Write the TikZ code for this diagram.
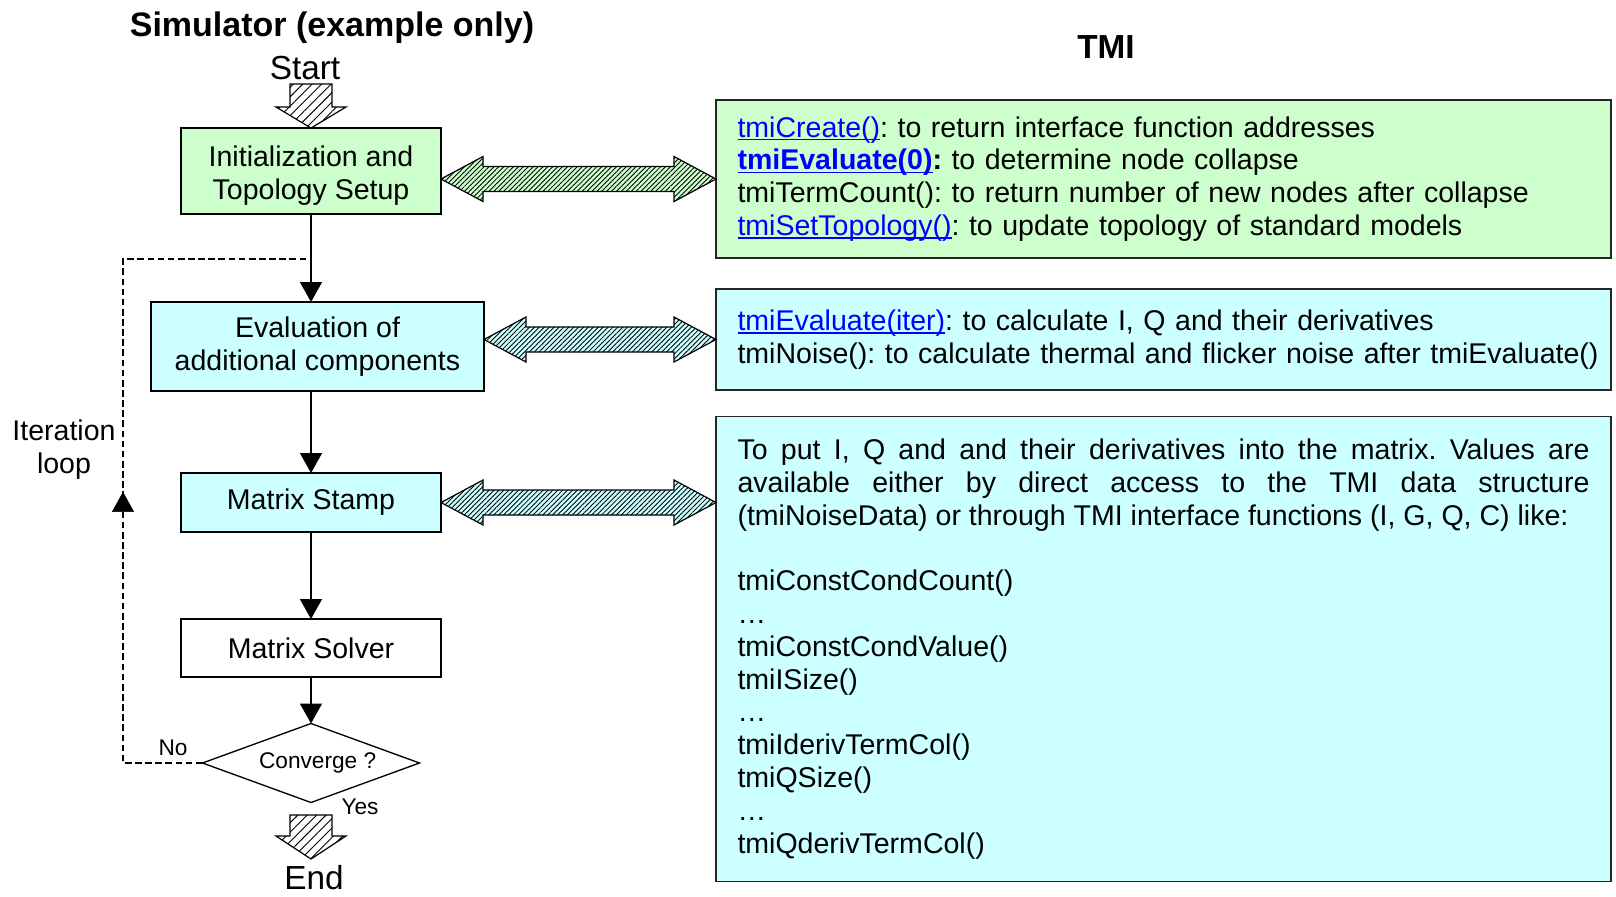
\documentclass[tikz,border=0pt]{standalone}
\usepackage{fontspec}
\setmainfont{Liberation Sans}
\usetikzlibrary{arrows.meta,shapes.geometric,patterns.meta,calc,decorations.markings}
\definecolor{lgreen}{HTML}{CCFFCC}
\definecolor{lcyan}{HTML}{CCFFFF}
\definecolor{lnk}{HTML}{0000FF}
\frenchspacing
\hyphenpenalty=10000
\exhyphenpenalty=10000
\newcommand\lk[1]{\textcolor{lnk}{\setbox0\hbox{#1}\rlap{\rule[-2.4pt]{\wd0}{1pt}}\box0}}
\newcommand\bodyfont{\fontsize{21.4pt}{24.6pt}\selectfont}
\newcommand\tmidbl[3]{%
  \path[dblarr, preaction={fill=#3}] (#1) -- ($(#1)+(42,-22.5)$) -- ($(#1)+(42,-12.5)$)
    -- ($(#2)+(-42,-12.5)$) -- ($(#2)+(-42,-22.5)$) -- (#2) -- ($(#2)+(-42,22.5)$)
    -- ($(#2)+(-42,12.5)$) -- ($(#1)+(42,12.5)$) -- ($(#1)+(42,22.5)$) -- cycle;}
\newcommand\tmidown[3]{%
  \path[blockarr] ($(#1)+(-21,0)$) -- ($(#1)+(21,0)$) -- ($(#2)+(21,-#3)$) -- ($(#2)+(35,-#3)$)
    -- (#2) -- ($(#2)+(-35,-#3)$) -- ($(#2)+(-21,-#3)$) -- cycle;}
\begin{document}
\begin{tikzpicture}[x=0.75pt,y=-0.75pt,
  every node/.style={inner sep=0pt, outer sep=0pt},
  fbox/.style={draw, line width=1.1pt, align=center, font=\bodyfont, minimum width=195pt},
  rbox/.style={draw=black!85, line width=1.1pt, minimum width=671.25pt, text width=639pt, font=\bodyfont},
  flow/.style={line width=1.1pt, -{Triangle[length=15pt,width=16.5pt]}},
  loopline/.style={line width=1pt, dash pattern=on 5pt off 2.6pt},
  blockarr/.style={draw, line width=0.9pt, preaction={fill=white}, pattern={Lines[angle=45,distance=5pt,line width=0.7pt]}},
  dblarr/.style={draw, line width=0.9pt, pattern={Lines[angle=45,distance=2.6pt,line width=0.65pt]}},
  lbl/.style={font=\fontsize{17pt}{20pt}\selectfont},
]
\useasboundingbox (0,0) rectangle (1616,896);

% titles
\node[font=\bfseries\fontsize{25.5pt}{30pt}\selectfont] (title) at (332,28) {Simulator (example only)};
\node[font=\bfseries\fontsize{25pt}{30pt}\selectfont] (tmi) at (1106,47) {TMI};
\node[font=\fontsize{25pt}{30pt}\selectfont] (start) at (305,68) {Start};

% flow nodes
\node[fbox, fill=lgreen, minimum height=64.5pt] (init) at (311,171) {\rule{0pt}{22pt}Initialization and\\Topology Setup};
\node[fbox, fill=lcyan, minimum width=249.75pt, minimum height=66.75pt] (eval) at (317.5,346.5) {Evaluation of\\additional components};
\node[fbox, fill=lcyan, minimum height=44.25pt] (stamp) at (311,502.5) {Matrix Stamp};
\node[fbox, fill=white, minimum height=43.5pt] (solver) at (311,648) {Matrix Solver};
\node[draw, line width=1pt, shape=diamond, aspect=2.75, minimum width=162.75pt, minimum height=59.25pt, lbl] (conv) at (311,763) {\hspace{10pt}Converge ?};
\node[font=\fontsize{25pt}{30pt}\selectfont] (end) at (314,878) {End};

% right boxes
\node[rbox, fill=lgreen, minimum height=118.5pt, align=left] (b1) at (1163.5,179) {%
\lk{tmiCreate()}: to return interface function addresses\\
\textbf{\lk{tmiEvaluate(0)}:} to determine node collapse\\
tmiTermCount(): to return number of new nodes after collapse\\
\lk{tmiSetTopology()}: to update topology of standard models};
\node[rbox, fill=lcyan, minimum height=75.75pt, align=left] (b2) at (1163.5,339.5) {%
\lk{tmiEvaluate(iter)}: to calculate I, Q and their derivatives\\
\mbox{tmiNoise(): to calculate thermal and flicker noise after tmiEvaluate()}};
\node[rbox, fill=lcyan, minimum height=348.75pt, align=justify] (b3) at (1163.5,649) {%
To put I, Q and and their derivatives into the matrix. Values are\linebreak
available either by direct access to the TMI data structure\linebreak
(tmiNoiseData) or through TMI interface functions (I, G, Q, C) like:\\[24.6pt]
tmiConstCondCount()\\
…\\
tmiConstCondValue()\\
tmiISize()\\
…\\
tmiIderivTermCol()\\
tmiQSize()\\
…\\
tmiQderivTermCol()};

% double arrows
\coordinate (a1l) at (init.east |- b1.west);
\coordinate (a1r) at (b1.west);
\coordinate (a2l) at (eval.east |- b2.west);
\coordinate (a2r) at (b2.west);
\coordinate (a3l) at (stamp.east);
\coordinate (a3r) at (stamp.east -| b3.west);
\tmidbl{a1l}{a1r}{lgreen}
\tmidbl{a2l}{a2r}{lcyan}
\tmidbl{a3l}{a3r}{lcyan}

% start / end block arrows
\coordinate (sT) at (311,84);
\tmidown{sT}{init.north}{21}
\coordinate (eT) at (311,815);
\coordinate (eB) at (311,859);
\tmidown{eT}{eB}{23}

% flow connectors
\draw[flow] (init.south) -- (init.south |- eval.north);
\draw[flow] (eval.south -| init.south) -- (stamp.north);
\draw[flow] (stamp) -- (solver);
\draw[flow] (solver) -- (conv);

% iteration loop
\coordinate (lb) at (123,763);
\coordinate (lt) at (123,259);
\draw[loopline] (conv.west) -- (lb) -- (lt) -- (lt -| init.south);
\path[postaction={decorate}, decoration={markings, mark=at position 0.538 with {\arrow{Triangle[length=15pt,width=16.5pt]}}}] (lb) -- (lt);

% labels
\node[lbl] (no) at (173,748) {No};
\node[lbl] (yes) at (360,807) {Yes};
\node[font=\bodyfont, align=center] (iter) at (64,450) {Iteration\\loop};
\end{tikzpicture}
\end{document}
